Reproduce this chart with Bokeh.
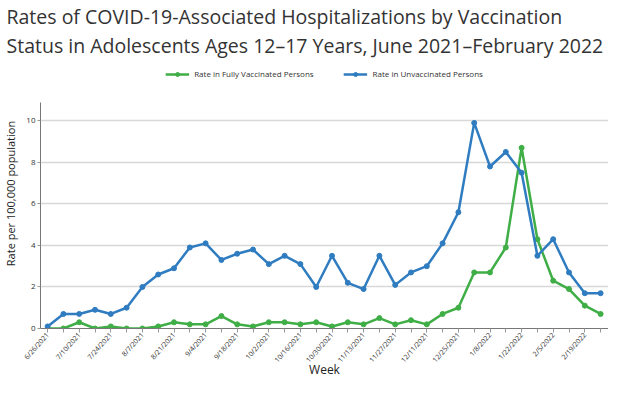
from bokeh.plotting import figure
from bokeh.models import FixedTicker, Legend, LegendItem, Range1d, Title
from bokeh.embed import file_html
from bokeh.resources import INLINE

weeks = ["6/26/2021", "7/3/2021", "7/10/2021", "7/17/2021", "7/24/2021", "7/31/2021",
         "8/7/2021", "8/14/2021", "8/21/2021", "8/28/2021", "9/4/2021", "9/11/2021",
         "9/18/2021", "9/25/2021", "10/2/2021", "10/9/2021", "10/16/2021", "10/23/2021",
         "10/30/2021", "11/6/2021", "11/13/2021", "11/20/2021", "11/27/2021", "12/4/2021",
         "12/11/2021", "12/18/2021", "12/25/2021", "1/1/2022", "1/8/2022", "1/15/2022",
         "1/22/2022", "1/29/2022", "2/5/2022", "2/12/2022", "2/19/2022", "2/26/2022"]

unvaccinated = [0.1, 0.7, 0.7, 0.9, 0.7, 1.0, 2.0, 2.6, 2.9, 3.9, 4.1, 3.3,
                3.6, 3.8, 3.1, 3.5, 3.1, 2.0, 3.5, 2.2, 1.9, 3.5, 2.1, 2.7,
                3.0, 4.1, 5.6, 9.9, 7.8, 8.5, 7.5, 3.5, 4.3, 2.7, 1.7, 1.7]

fully_vaccinated = [0.0, 0.0, 0.3, 0.0, 0.1, 0.0, 0.0, 0.1, 0.3, 0.2, 0.2, 0.6,
                    0.2, 0.1, 0.3, 0.3, 0.2, 0.3, 0.1, 0.3, 0.2, 0.5, 0.2, 0.4,
                    0.2, 0.7, 1.0, 2.7, 2.7, 3.9, 8.7, 4.3, 2.3, 1.9, 1.1, 0.7]

y_ticks = [0, 2, 4, 6, 8, 10]

title_lines = ["Rates of COVID-19-Associated Hospitalizations by Vaccination",
               "Status in Adolescents Ages 12\u201317 Years, June 2021\u2013February 2022"]

x = list(range(len(weeks)))
FONT = "Open Sans"
GREEN = "#3fae46"
BLUE = "#2f7cc0"

p = figure(width=608, height=381, output_backend="svg", toolbar_location=None,
           x_range=Range1d(-0.45, 35.5), y_range=Range1d(0, 13.0),
           min_border_left=30, min_border_right=0, min_border_top=0, min_border_bottom=0)
p.title.visible = False

g_line = p.line(x, fully_vaccinated, line_color=GREEN, line_width=2.5)
g_pts = p.scatter(x, fully_vaccinated, size=5, fill_color=GREEN, line_color=GREEN)
b_line = p.line(x, unvaccinated, line_color=BLUE, line_width=2.5)
b_pts = p.scatter(x, unvaccinated, size=5, fill_color=BLUE, line_color=BLUE)

legend = Legend(items=[
    LegendItem(label="Rate in Fully Vaccinated Persons", renderers=[g_line, g_pts]),
    LegendItem(label="Rate in Unvaccinated Persons", renderers=[b_line, b_pts]),
], orientation="horizontal", location="top_center")
legend.label_text_font = FONT
legend.label_text_font_size = "8px"
legend.label_text_color = "#333333"
legend.border_line_color = None
legend.background_fill_alpha = 0
legend.glyph_width = 24
legend.glyph_height = 10
legend.label_height = 10
legend.spacing = 30
legend.margin = 10
legend.padding = 2
p.add_layout(legend)

for line in reversed(title_lines):
    t = Title(text=line, text_font=FONT, text_font_size="19.5px", text_font_style="normal",
              text_color="#333333", offset=-34, standoff=0)
    p.add_layout(t, "above")

p.xaxis.ticker = FixedTicker(ticks=x)
p.xaxis.major_label_overrides = {i: (w if i % 2 == 0 else "") for i, w in enumerate(weeks)}
p.xaxis.major_label_orientation = 0.85
p.xaxis.major_label_text_font = FONT
p.xaxis.major_label_text_font_size = "7px"
p.xaxis.major_label_text_color = "#333333"
p.xaxis.axis_label = "Week"
p.xaxis.axis_label_text_font = FONT
p.xaxis.axis_label_text_font_size = "12px"
p.xaxis.axis_label_text_font_style = "normal"
p.xaxis.axis_label_text_color = "#222222"
p.xaxis.axis_label_standoff = -9
p.xaxis.major_label_standoff = 1
p.xaxis.major_tick_in = 0
p.xaxis.major_tick_out = 4
p.xaxis.minor_tick_out = 0
p.xaxis.axis_line_color = "#777777"
p.xaxis.major_tick_line_color = "#999999"

p.yaxis.ticker = FixedTicker(ticks=y_ticks)
p.yaxis.bounds = (0, 10.9)
p.yaxis.major_label_text_font = FONT
p.yaxis.major_label_text_font_size = "8px"
p.yaxis.major_label_text_color = "#333333"
p.yaxis.axis_label = "Rate per 100,000 population"
p.yaxis.axis_label_text_font = FONT
p.yaxis.axis_label_text_font_size = "11px"
p.yaxis.axis_label_text_font_style = "normal"
p.yaxis.axis_label_text_color = "#222222"
p.yaxis.axis_label_standoff = 5
p.yaxis.major_label_standoff = 2
p.yaxis.major_tick_in = 0
p.yaxis.major_tick_out = 3
p.yaxis.minor_tick_out = 0
p.yaxis.minor_tick_in = 0
p.yaxis.axis_line_color = "#777777"
p.yaxis.major_tick_line_color = "#999999"

p.xgrid.grid_line_color = None
p.ygrid.grid_line_color = "#d8d8d8"
p.ygrid.grid_line_width = 1.5
p.outline_line_color = None

open("out.html", "w").write(file_html(p, INLINE))
